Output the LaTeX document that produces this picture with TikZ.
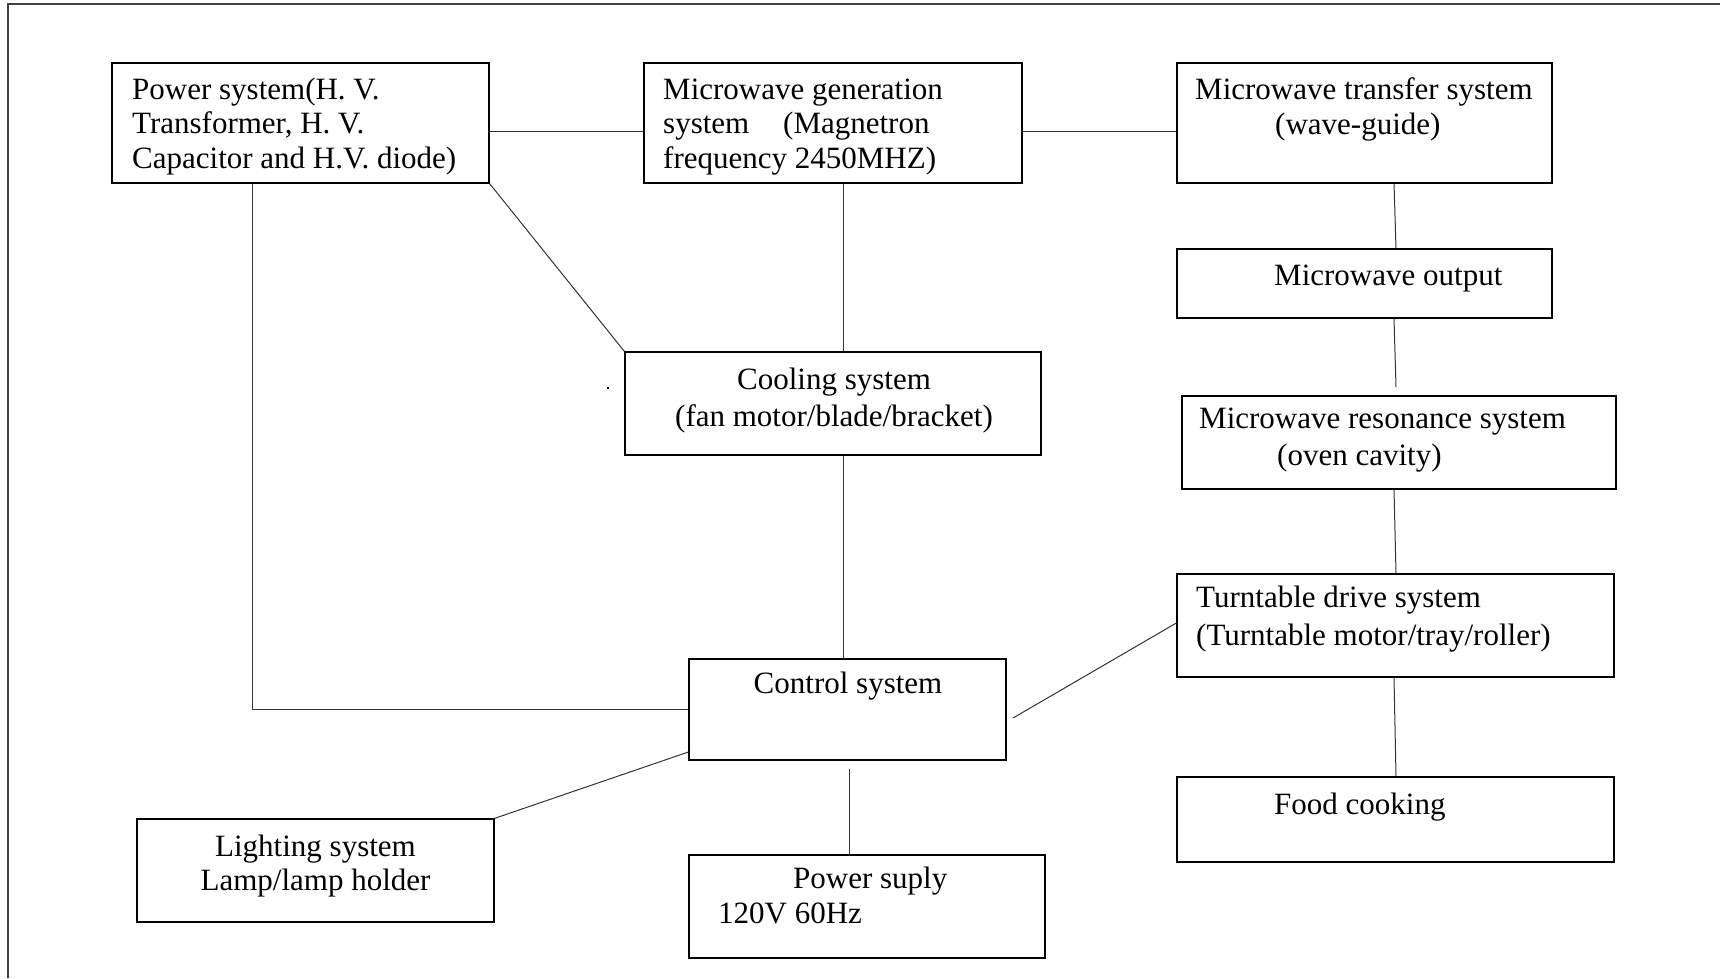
\documentclass[tikz,border=0pt]{standalone}
\usepackage{fontspec}
\setmainfont{Liberation Serif}
\begin{document}
\begin{tikzpicture}[x=1pt,y=-1pt,
  box/.style={draw=black, line width=1.3pt, inner sep=0pt, rectangle},
  conn/.style={draw=black!80, line width=1pt},
  txt/.style={inner sep=0pt, font=\fontsize{31}{34.5}\selectfont},
]
\useasboundingbox (0,0) rectangle (1720,978);
\fill[white] (0,0) rectangle (1720,978);
% outer frame (only top and left edges visible)
\draw[line width=1.5pt, black!75] (8,978) -- (8,4) -- (1720,4);

% boxes
\node[box, minimum width=377pt, minimum height=120pt] (pw) at (300.5,123) {};
\node[box, minimum width=378pt, minimum height=120pt] (mg) at (833,123) {};
\node[box, minimum width=375pt, minimum height=120pt] (tr) at (1364.5,123) {};
\node[box, minimum width=375pt, minimum height=69pt] (out) at (1364.5,283.5) {};
\node[box, minimum width=434pt, minimum height=93pt] (res) at (1399,442.5) {};
\node[box, minimum width=437pt, minimum height=103pt] (tt) at (1395.5,625.5) {};
\node[box, minimum width=437pt, minimum height=85pt] (food) at (1395.5,819.5) {};
\node[box, minimum width=416pt, minimum height=103pt] (cool) at (833,403.5) {};
\node[box, minimum width=317pt, minimum height=101pt] (ctrl) at (847.5,709.5) {};
\node[box, minimum width=356pt, minimum height=103pt] (ps) at (867,906.5) {};
\node[box, minimum width=357pt, minimum height=103pt] (lt) at (315.5,870.5) {};

% texts (multi-line nodes anchored at the baseline of their last line)
\node[txt, anchor=base west, align=left] (pwt) at (132,168) {Power system(H. V.\\Transformer, H. V.\\Capacitor and H.V. diode)};
\node[txt, anchor=base west, align=left] (mgt) at (663,168) {Microwave generation\\\makebox[120pt][l]{system}(Magnetron\\frequency 2450MHZ)};
\node[txt, anchor=base west, align=left] (trt) at (1195,134) {Microwave transfer system\\[0.5pt]\hspace*{80pt}(wave-guide)};
\node[txt, anchor=base west] (outt) at (1274,285) {Microwave output};
\node[txt, anchor=base west, align=left] (rest) at (1199,465) {Microwave resonance system\\[2.5pt]\hspace*{78pt}(oven cavity)};
\node[txt, anchor=base west, align=left] (ttt) at (1196,645) {Turntable drive system\\[3.5pt](Turntable motor/tray/roller)};
\node[txt, anchor=base west] (foodt) at (1274,814) {Food cooking};
\node[txt, anchor=base, align=center] (coolt) at (834,426) {Cooling system\\[2.5pt](fan motor/blade/bracket)};
\node[txt, anchor=base] (ctrlt) at (848,693) {Control system};
\node[txt, anchor=base west, align=left] (pst) at (718,923) {\hspace*{75pt}Power suply\\[0.5pt]120V 60Hz};
\node[txt, anchor=base, align=center] (ltt) at (315.5,890) {Lighting system\\[-0.5pt]Lamp/lamp holder};

% stray dot
\fill[black] (606.8,386.8) rectangle (609.3,389.3);

% helper coordinates
\coordinate (h1) at (0,131);
\coordinate (v1) at (252,0);
\coordinate (v2) at (843,0);
\coordinate (v3) at (849,0);
\coordinate (ctrlb) at (849,769);
\coordinate (h2) at (0,752);
\coordinate (ctrlr) at (1013,718);
\coordinate (h3) at (0,623);
\coordinate (va) at (1394,0);
\coordinate (vb) at (1396,0);
\coordinate (outb) at (1396,387);

% connectors
\draw[conn] (pw.east |- h1) -- (mg.west |- h1);
\draw[conn] (mg.east |- h1) -- (tr.west |- h1);
\draw[conn] (pw.south -| v1) -- (v1 |- ctrl.west) -- (ctrl.west);
\draw[conn] (pw.south east) -- (cool.north west);
\draw[conn] (mg.south -| v2) -- (cool.north -| v2);
\draw[conn] (cool.south -| v2) -- (ctrl.north -| v2);
\draw[conn] (ctrlb) -- (ps.north -| v3);
\draw[conn] (ctrl.west |- h2) -- (lt.north east);
\draw[conn] (ctrlr) -- (tt.west |- h3);
\draw[conn] (tr.south -| va) -- (out.north -| vb);
\draw[conn] (out.south -| va) -- (outb);
\draw[conn] (res.south -| va) -- (tt.north -| vb);
\draw[conn] (tt.south -| va) -- (food.north -| vb);
\end{tikzpicture}
\end{document}
